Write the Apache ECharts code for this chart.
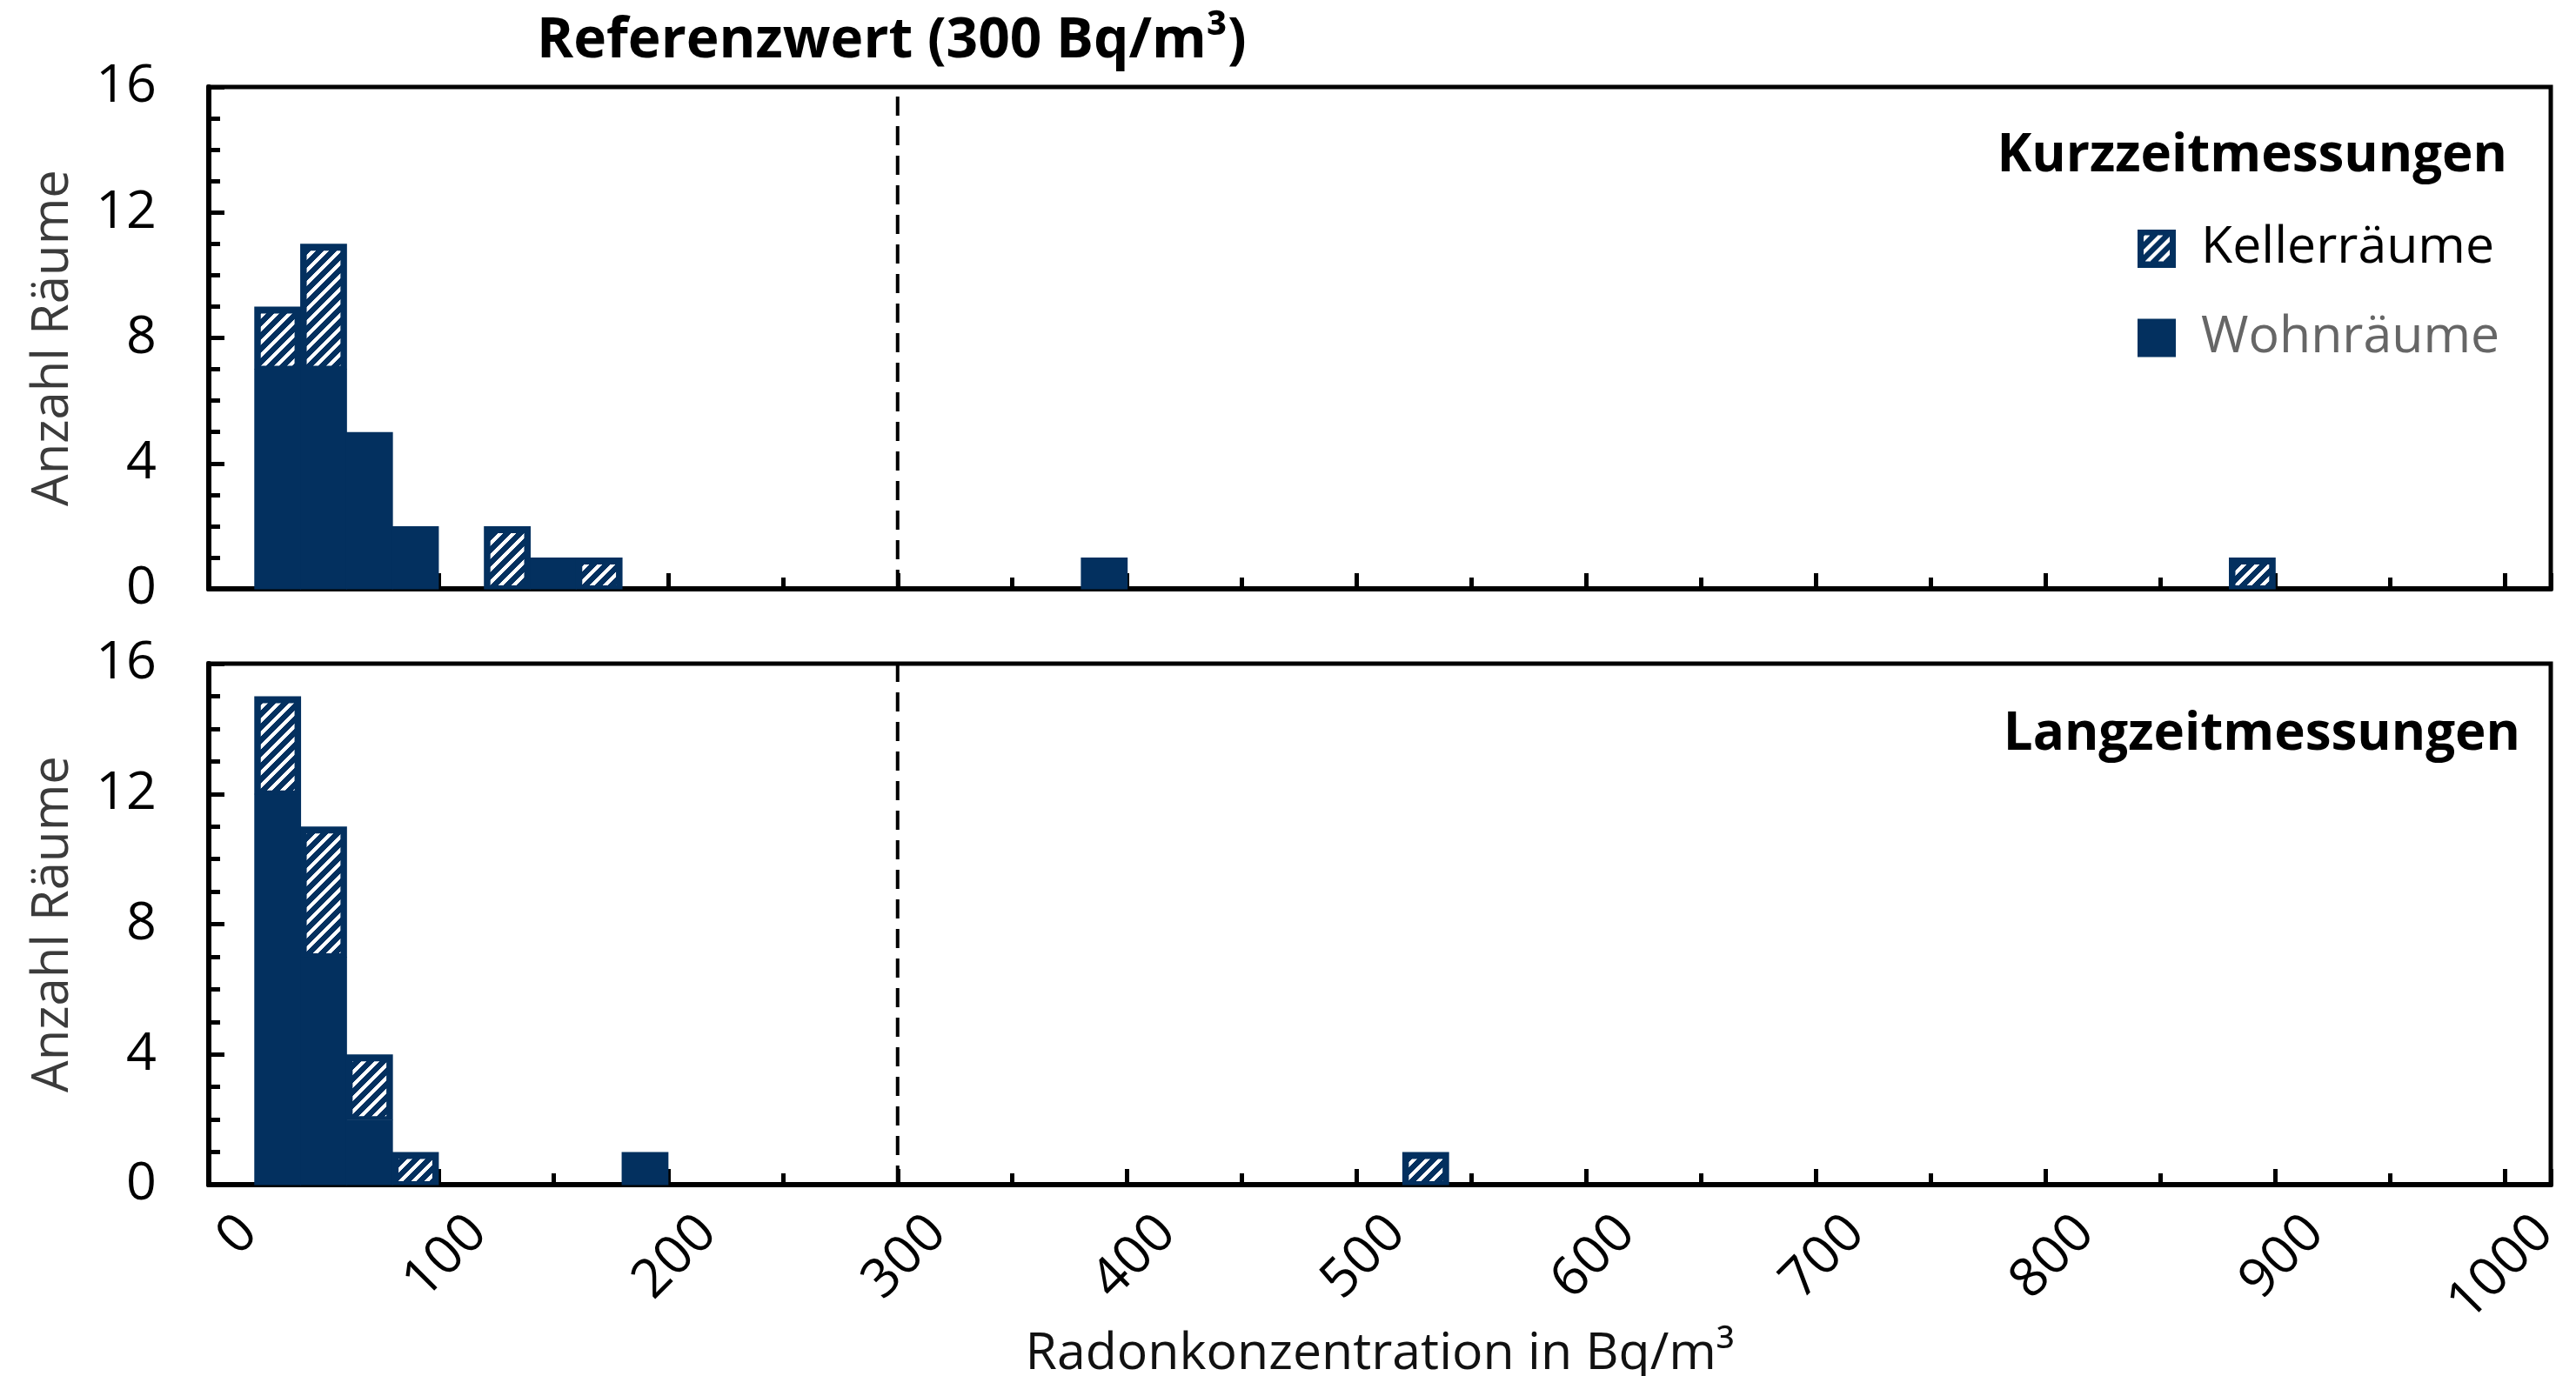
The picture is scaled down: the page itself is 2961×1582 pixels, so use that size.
<!DOCTYPE html>
<html>
<head>
<meta charset="utf-8">
<script src="https://cdn.jsdelivr.net/npm/echarts@6/dist/echarts.min.js"></script>
<style>
  html, body { margin: 0; padding: 0; background: #fff; }
  #chart { width: 2961px; height: 1582px; }
</style>
</head>
<body>
<div id="chart"></div>
<script>
// histogram bins, 20 Bq/m³ wide, only non-empty bins listed
const binWidth = 20;
const binStartsShort = [20, 40, 60, 80, 120, 140, 160, 380, 880];
const wohnShort      = [7,  7,  5,  2,  0,   1,   0,   1,   0];
const kellerShort    = [2,  4,  0,  0,  2,   0,   1,   0,   1];

const binStartsLong  = [20, 40, 60, 80, 180, 520];
const wohnLong       = [12, 7,  2,  0,  1,   0];
const kellerLong     = [3,  4,  2,  1,  0,   1];

const refValue = 300;
const yTicks = [0, 4, 8, 12, 16];
const xTickLabels = [0, 100, 200, 300, 400, 500, 600, 700, 800, 900, 1000];

const NAVY = '#03305f';
const FONT = 'Open Sans';

// white "/" stripes on navy, pixel pattern
function makeHatchTile(size, stripe) {
  const c = document.createElement('canvas');
  c.width = size; c.height = size;
  const ctx = c.getContext('2d');
  const img = ctx.createImageData(size, size);
  for (let y = 0; y < size; y++) {
    for (let x = 0; x < size; x++) {
      const white = ((x + y) % size) < stripe;
      const i = (y * size + x) * 4;
      img.data[i] = white ? 255 : 3;
      img.data[i + 1] = white ? 255 : 48;
      img.data[i + 2] = white ? 255 : 95;
      img.data[i + 3] = 255;
    }
  }
  ctx.putImageData(img, 0, 0);
  return c;
}
const hatchTile = makeHatchTile(15, 6);

function makeLegendIcon() {
  const c = document.createElement('canvas');
  c.width = 44; c.height = 44;
  const ctx = c.getContext('2d');
  ctx.fillStyle = NAVY;
  ctx.fillRect(0, 0, 44, 44);
  ctx.fillStyle = ctx.createPattern(hatchTile, 'repeat');
  ctx.fillRect(7, 7, 30, 30);
  return c.toDataURL();
}

// rows: [binStart, binEnd, bottom, top]
function stackRows(starts, lower, upper, useUpper) {
  const rows = [];
  starts.forEach((s, i) => {
    const base = useUpper ? lower[i] : 0;
    const h = useUpper ? upper[i] : lower[i];
    if (h > 0) rows.push([s, s + binWidth, base, base + h]);
  });
  return rows;
}

function renderBin(hatched) {
  return function (params, api) {
    const p0 = api.coord([api.value(0), api.value(2)]);
    const p1 = api.coord([api.value(1), api.value(3)]);
    const x = p0[0], y = p1[1], w = p1[0] - p0[0], h = p0[1] - p1[1];
    // +1 px so neighbouring bins merge without seams
    const children = [{ type: 'rect', shape: { x: x - 0.5, y: y, width: w + 1, height: h + 0.5 }, style: { fill: NAVY } }];
    if (hatched) {
      children.push({
        type: 'rect',
        shape: { x: x + 7, y: y + 8, width: w - 14, height: h - 12 },
        style: { fill: { image: hatchTile, repeat: 'repeat' } }
      });
    }
    return { type: 'group', children: children };
  };
}

function xAxisMain(gridIndex, withLabels) {
  return {
    type: 'value', gridIndex: gridIndex, position: 'bottom',
    min: 0, max: 1020, interval: 100,
    axisLine: { show: true, lineStyle: { color: '#000', width: 6 } },
    axisTick: { show: true, inside: true, length: 18, lineStyle: { color: '#000', width: 5 } },
    splitLine: { show: false },
    axisLabel: withLabels ? {
      show: true, rotate: 45, margin: 0, align: 'right', verticalAlign: 'top',
      padding: [34, 0, 0, 0],
      fontFamily: FONT, fontSize: 62, color: '#000',
      formatter: v => (xTickLabels.indexOf(v) >= 0 ? String(v) : '')
    } : { show: false },
    name: withLabels ? 'Radonkonzentration in Bq/m³' : '',
    nameLocation: 'middle', nameGap: 166, nameMoveOverlap: false,
    nameTextStyle: { fontFamily: FONT, fontSize: 59, color: '#111' }
  };
}

function xAxisMinor(gridIndex) {
  return {
    type: 'value', gridIndex: gridIndex, position: 'bottom',
    min: 0, max: 1020, interval: 50,
    axisLine: { show: false },
    axisTick: { show: true, inside: true, length: 13, lineStyle: { color: '#000', width: 5 } },
    axisLabel: { show: false },
    splitLine: { show: false }
  };
}

function yAxis(gridIndex) {
  return {
    type: 'value', gridIndex: gridIndex,
    min: yTicks[0], max: yTicks[yTicks.length - 1], interval: 4,
    axisLine: { show: true, lineStyle: { color: '#000', width: 6 } },
    axisTick: { show: true, inside: true, length: 18, lineStyle: { color: '#000', width: 5 } },
    minorTick: { show: true, splitNumber: 4, length: 13, lineStyle: { color: '#000', width: 5 } },
    splitLine: { show: false },
    axisLabel: { fontFamily: FONT, fontSize: 61, color: '#000', margin: 60 },
    name: 'Anzahl Räume', nameLocation: 'middle', nameGap: 150,
    nameTextStyle: { fontFamily: FONT, fontSize: 58, color: '#3b3b3b' }
  };
}

function binSeries(name, data, hatched, xi, yi) {
  return {
    type: 'custom', name: name, xAxisIndex: xi, yAxisIndex: yi,
    renderItem: renderBin(hatched),
    itemStyle: { color: NAVY },
    encode: { x: [0, 1], y: [2, 3] },
    data: data, silent: true
  };
}

function refLine(xi, yi) {
  return {
    type: 'line', xAxisIndex: xi, yAxisIndex: yi, symbol: 'none', silent: true, z: 5,
    lineStyle: { color: '#000', width: 4, type: [22, 12] },
    data: [[refValue, yTicks[0]], [refValue, yTicks[yTicks.length - 1]]]
  };
}

const chart = echarts.init(document.getElementById('chart'), null, { renderer: 'canvas' });
chart.setOption({
  animation: false,
  backgroundColor: '#fff',
  title: [
    { text: 'Referenzwert (300 Bq/m³)', left: 612, top: 5,
      textStyle: { fontFamily: FONT, fontSize: 64, fontWeight: 'bold', color: '#000', lineHeight: 76 } },
    { text: 'Kurzzeitmessungen', right: 74, top: 139,
      textStyle: { fontFamily: FONT, fontSize: 60, fontWeight: 'bold', color: '#000', lineHeight: 72 } },
    { text: 'Langzeitmessungen', right: 59, top: 804,
      textStyle: { fontFamily: FONT, fontSize: 60, fontWeight: 'bold', color: '#000', lineHeight: 72 } }
  ],
  legend: {
    orient: 'vertical', left: 2452, top: 251,
    itemWidth: 44, itemHeight: 44, itemGap: 44,
    textStyle: { fontFamily: FONT, fontSize: 59, color: '#000', padding: [0, 0, 0, 24] },
    data: [
      { name: 'Kellerräume', icon: 'image://' + makeLegendIcon() },
      { name: 'Wohnräume', icon: 'rect', textStyle: { color: '#666' } }
    ],
    selectedMode: false
  },
  grid: [
    { left: 240, right: 29, top: 100, bottom: 905, show: true, borderColor: '#000', borderWidth: 5, outerBoundsMode: 'none' },
    { left: 240, right: 29, top: 763, bottom: 220, show: true, borderColor: '#000', borderWidth: 5, outerBoundsMode: 'none' }
  ],
  xAxis: [xAxisMain(0, false), xAxisMinor(0), xAxisMain(1, true), xAxisMinor(1)],
  yAxis: [yAxis(0), yAxis(1)],
  series: [
    binSeries('Wohnräume', stackRows(binStartsShort, wohnShort, kellerShort, false), false, 0, 0),
    binSeries('Kellerräume', stackRows(binStartsShort, wohnShort, kellerShort, true), true, 0, 0),
    binSeries('Wohnräume', stackRows(binStartsLong, wohnLong, kellerLong, false), false, 2, 1),
    binSeries('Kellerräume', stackRows(binStartsLong, wohnLong, kellerLong, true), true, 2, 1),
    refLine(0, 0),
    refLine(2, 1)
  ]
});
</script>
</body>
</html>
